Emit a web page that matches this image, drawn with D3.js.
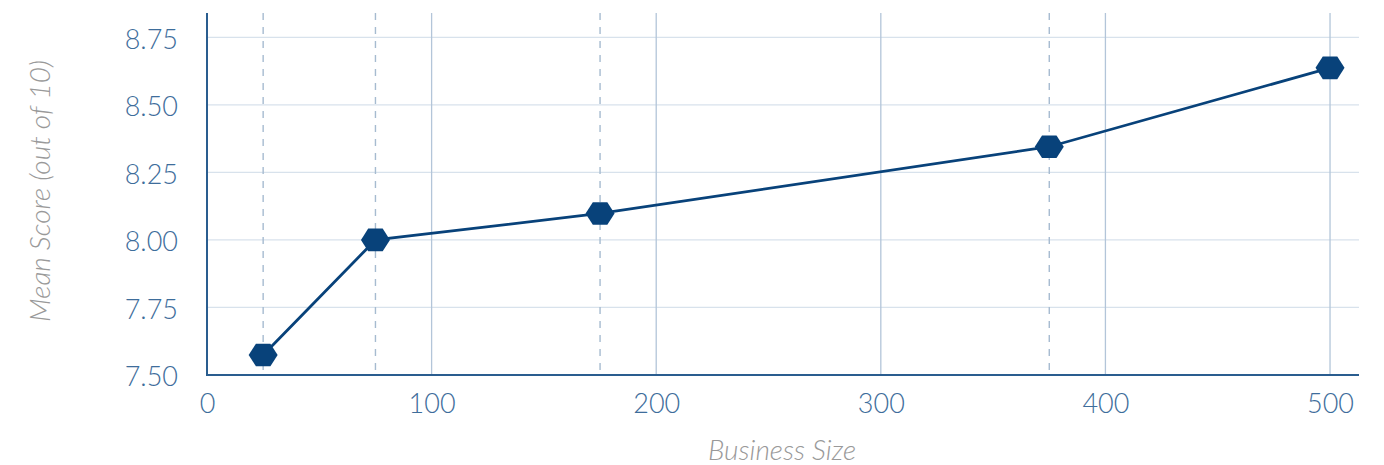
<!DOCTYPE html>
<html>
<head>
<meta charset="utf-8">
<script src="https://cdn.jsdelivr.net/npm/d3@7"></script>
<style>
  html, body { margin: 0; padding: 0; background: #fff; }
  svg { display: block; }
  .tick text { font-family: Lato, "Open Sans", sans-serif; font-weight: 300; }
</style>
</head>
<body>
<svg id="chart" width="1384" height="465"></svg>
<script>
// Mean score by business size
const businessSize = [25, 75, 175, 375, 500];
const meanScore = [7.574, 8.0, 8.098, 8.345, 8.637];
const xTicks = [0, 100, 200, 300, 400, 500];
const yTicks = [7.5, 7.75, 8.0, 8.25, 8.5, 8.75];
const yTickLabels = ["7.50", "7.75", "8.00", "8.25", "8.50", "8.75"];

const width = 1384, height = 465;
const margin = { top: 13, right: 25, bottom: 90, left: 207 };

const svg = d3.select("#chart");

const x = d3.scaleLinear()
  .domain([0, 512.9])
  .range([margin.left, width - margin.right]);
const y = d3.scaleLinear()
  .domain([7.5, 8.84])
  .range([height - margin.bottom, margin.top]);

const x0 = x.range()[0], x1 = x.range()[1];
const yBottom = y.range()[0], yTop = y.range()[1];

// horizontal gridlines
svg.append("g")
  .selectAll("line")
  .data(yTicks.slice(1))
  .join("line")
  .attr("x1", x0).attr("x2", x1)
  .attr("y1", d => y(d)).attr("y2", d => y(d))
  .attr("stroke", "#d8e2ec")
  .attr("stroke-width", 1.3);

// vertical gridlines
svg.append("g")
  .selectAll("line")
  .data(xTicks.slice(1))
  .join("line")
  .attr("x1", d => x(d)).attr("x2", d => x(d))
  .attr("y1", yTop).attr("y2", yBottom)
  .attr("stroke", "#b3c5d9")
  .attr("stroke-width", 1.3);

// dashed guides at each measured business size
svg.append("g")
  .selectAll("line")
  .data(businessSize.filter(d => !xTicks.includes(d)))
  .join("line")
  .attr("x1", d => x(d)).attr("x2", d => x(d))
  .attr("y1", yTop).attr("y2", yBottom)
  .attr("stroke", "#a6bbd0")
  .attr("stroke-width", 1.4)
  .attr("stroke-dasharray", "7,7");

// axes
const xAxis = d3.axisBottom(x).tickValues(xTicks).tickSize(0).tickPadding(19);
const yAxis = d3.axisLeft(y).tickValues(yTicks).tickSize(0).tickPadding(29)
  .tickFormat((d, i) => yTickLabels[i]);

const gx = svg.append("g")
  .attr("transform", `translate(0,${yBottom})`)
  .call(xAxis);
gx.select(".domain").remove();
gx.selectAll("text")
  .attr("fill", "#3e6d9b")
  .attr("font-size", 27);

const gy = svg.append("g")
  .attr("transform", `translate(${x0},0)`)
  .call(yAxis);
gy.select(".domain").remove();
gy.selectAll("text")
  .attr("fill", "#3e6d9b")
  .attr("font-size", 27)
  .attr("dy", "0.40em");

// axis lines
svg.append("line")
  .attr("x1", x0).attr("x2", x1)
  .attr("y1", yBottom).attr("y2", yBottom)
  .attr("stroke", "#2a5d8f").attr("stroke-width", 2);
svg.append("line")
  .attr("x1", x0).attr("x2", x0)
  .attr("y1", yTop).attr("y2", yBottom + 1)
  .attr("stroke", "#2a5d8f").attr("stroke-width", 2);

// axis titles
svg.append("text")
  .attr("x", 782)
  .attr("y", 460)
  .attr("text-anchor", "middle")
  .attr("font-family", "Lato, 'Open Sans', sans-serif")
  .attr("font-weight", 300)
  .attr("font-style", "italic")
  .attr("font-size", 28)
  .attr("fill", "#999999")
  .text("Business Size");

svg.append("text")
  .attr("transform", `translate(50,191) rotate(-90)`)
  .attr("text-anchor", "middle")
  .attr("font-family", "Lato, 'Open Sans', sans-serif")
  .attr("font-weight", 300)
  .attr("font-style", "italic")
  .attr("font-size", 28)
  .attr("fill", "#999999")
  .text("Mean Score (out of 10)");

// series line
const pts = businessSize.map((d, i) => [d, meanScore[i]]);
svg.append("path")
  .datum(pts)
  .attr("fill", "none")
  .attr("stroke", "#08427a")
  .attr("stroke-width", 2.8)
  .attr("d", d3.line().x(d => x(d[0])).y(d => y(d[1])));

// hexagon markers (flat top)
const r = 14.5;
const hex = d3.range(6).map(k => {
  const a = Math.PI / 3 * k;
  return [r * Math.cos(a), r * Math.sin(a) * 0.9];
});
svg.append("g")
  .selectAll("path")
  .data(pts)
  .join("path")
  .attr("transform", d => `translate(${x(d[0])},${y(d[1])})`)
  .attr("d", "M" + hex.map(p => p.join(",")).join("L") + "Z")
  .attr("fill", "#08427a");
</script>
</body>
</html>
